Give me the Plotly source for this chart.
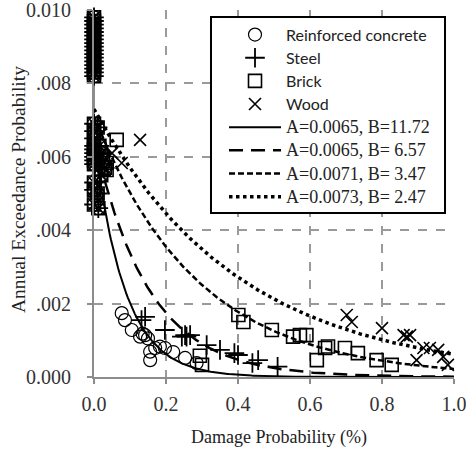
import numpy as np
import plotly.graph_objects as go

# ---- data ----
rc_x = [0.077, 0.086, 0.105, 0.128, 0.142, 0.156, 0.156, 0.17, 0.183, 0.197, 0.22, 0.253, 0.285, 0.135, 0.15]
rc_y = [0.00174, 0.00155, 0.00128, 0.0011, 0.00114, 0.00046, 0.00069, 0.00079, 0.00083, 0.00079, 0.00068, 0.00052, 0.00038, 0.00118, 0.00105]

st_x = [0.132, 0.142, 0.197, 0.244, 0.253, 0.257, 0.267, 0.313, 0.35, 0.39, 0.40, 0.44, 0.456, 0.51]
st_y = [0.00155, 0.00164, 0.00128, 0.0011, 0.00114, 0.0011, 0.00114, 0.00087, 0.00074, 0.00065, 0.0006, 0.00038, 0.00046, 0.00028]

br_x = [0.294, 0.30, 0.401, 0.415, 0.494, 0.553, 0.572, 0.59, 0.619, 0.642, 0.65, 0.697, 0.733, 0.785, 0.827, 0.035, 0.035, 0.063]
br_y = [0.00058, 0.00033, 0.00169, 0.0015, 0.00128, 0.0011, 0.00114, 0.00114, 0.00046, 0.00079, 0.00083, 0.00079, 0.00065, 0.00046, 0.00033, 0.00583, 0.00564, 0.00646]

wd_x = [0.702, 0.716, 0.80, 0.86, 0.869, 0.878, 0.896, 0.915, 0.933, 0.956, 0.97, 0.983, 0.077, 0.128, 0.05]
wd_y = [0.00169, 0.0015, 0.00133, 0.00114, 0.0011, 0.00114, 0.00046, 0.00079, 0.00079, 0.00074, 0.00055, 0.00033, 0.00583, 0.00646, 0.0061]

# points stacked at zero damage probability
zero_y = [0.0098, 0.0097, 0.0096, 0.0095, 0.0094, 0.0093, 0.0092, 0.0091, 0.0090, 0.0089,
          0.0088, 0.0087, 0.0086, 0.0085, 0.0084, 0.0083, 0.0082,
          0.0069, 0.0067, 0.0065, 0.0063, 0.0062, 0.0061, 0.0060, 0.0059, 0.0058, 0.0053, 0.0051, 0.0047]
near_zero_x = [0.01, 0.015, 0.02, 0.025, 0.03, 0.02, 0.01, 0.012]
near_zero_y = [0.0068, 0.0063, 0.0061, 0.0059, 0.0057, 0.0055, 0.0050, 0.0046]

# fitted curves  P = A * exp(-B * x)
fit_A = [0.0065, 0.0065, 0.0071, 0.0073]
fit_B = [11.72, 6.57, 3.47, 2.47]
fit_dash = ["solid", "14px,8px", "6px,3px", "dot"]
fit_width = [2, 2.5, 2.5, 3.5]

x_ticks = [0, 0.2, 0.4, 0.6, 0.8, 1.0]
x_ticktext = ["0.0", "0.2", "0.4", "0.6", "0.8", "1.0"]
y_ticks = [0, 0.002, 0.004, 0.006, 0.008, 0.010]
y_ticktext = ["0.000", ".002", ".004", ".006", ".008", "0.010"]

SERIF = "Liberation Serif, Times New Roman, serif"
SANS = "<span style='font-family:Lato, sans-serif; font-size:16px'>%s</span>"
TIMES = "<span style='font-family:Liberation Serif, serif; font-size:18px'>%s</span>"

W, H = 466, 449
ML, MR, MT, MB = 94, 12, 10, 72
PW, PH = W - ML - MR, H - MT - MB

fig = go.Figure()

# grey vertical connector at x=0
fig.add_trace(go.Scatter(x=[0, 0], y=[0.0046, 0.0098], mode="lines", cliponaxis=False,
                         line=dict(color="#8c8c8c", width=2), showlegend=False, hoverinfo="skip"))

series = [
    ("Reinforced concrete", rc_x, rc_y, "circle-open", 13, 1.2),
    ("Steel", st_x, st_y, "cross-thin-open", 14, 1.8),
    ("Brick", br_x, br_y, "square-open", 13, 1.6),
    ("Wood", wd_x, wd_y, "x-thin-open", 12, 1.6),
]
for name, xs, ys, sym, sz, lw in series:
    allx = list(xs) + [0.0] * len(zero_y) + near_zero_x
    ally = list(ys) + zero_y + near_zero_y
    fig.add_trace(go.Scatter(
        x=allx, y=ally, mode="markers", name=SANS % name, cliponaxis=False,
        marker=dict(symbol=sym, size=sz, color="black", line=dict(color="black", width=lw)),
    ))

xx = np.linspace(0, 1, 300)
for A, B, d, w in zip(fit_A, fit_B, fit_dash, fit_width):
    label = "A=%s, B=%s" % (A, ("%.2f" % B) if B >= 10 else " %.2f" % B)
    fig.add_trace(go.Scatter(x=xx, y=A * np.exp(-B * xx), mode="lines", name=TIMES % label,
                             line=dict(color="black", width=w, dash=d)))

# legend frame
fig.add_shape(type="rect", xref="paper", yref="paper",
              x0=(211 - ML) / PW, x1=(445 - ML) / PW,
              y0=1 - (213 - MT) / PH, y1=1 - (17 - MT) / PH,
              line=dict(color="black", width=2), fillcolor="white", layer="above")

# axis titles
fig.add_annotation(text="Damage Probability (%)", xref="paper", yref="paper",
                   x=(279 - ML) / PW, y=1 - (438 - MT) / PH, showarrow=False,
                   xanchor="center", yanchor="middle",
                   font=dict(family=SERIF, size=18, color="#222"))
fig.add_annotation(text="Annual Exceedance Probability", xref="paper", yref="paper",
                   x=(18 - ML) / PW, y=1 - (190 - MT) / PH, showarrow=False, textangle=-90,
                   xanchor="center", yanchor="middle",
                   font=dict(family=SERIF, size=19.5, color="#222"))

axis_common = dict(showline=True, linecolor="#8c8c8c", linewidth=2, ticks="outside",
                   tickcolor="#8c8c8c", ticklen=5, tickwidth=2,
                   showgrid=True, gridcolor="#9a9a9a", griddash="dash", gridwidth=1.5,
                   zeroline=False, tickfont=dict(family=SERIF, size=20, color="#333"),
                   ticklabeloverflow="allow", automargin=False, mirror=False)

fig.update_layout(
    width=W, height=H,
    margin=dict(l=ML, r=MR, t=MT, b=MB, autoexpand=False),
    paper_bgcolor="white", plot_bgcolor="white",
    xaxis=dict(range=[0, 1], tickvals=x_ticks, ticktext=x_ticktext, ticklabelstandoff=3,
               **axis_common),
    yaxis=dict(range=[0, 0.01], tickvals=y_ticks, ticktext=y_ticktext, ticklabelstandoff=12,
               **axis_common),
    legend=dict(x=(224 - ML) / PW, y=1 - (18 - MT) / PH, xanchor="left", yanchor="top",
                bgcolor="rgba(0,0,0,0)", borderwidth=0,
                font=dict(family=SERIF, size=15.5, color="#222"),
                itemwidth=52, tracegroupgap=0),
    showlegend=True,
)

fig.write_html("out.html", config={"displayModeBar": False},
               post_script="document.body.style.margin='0';")
